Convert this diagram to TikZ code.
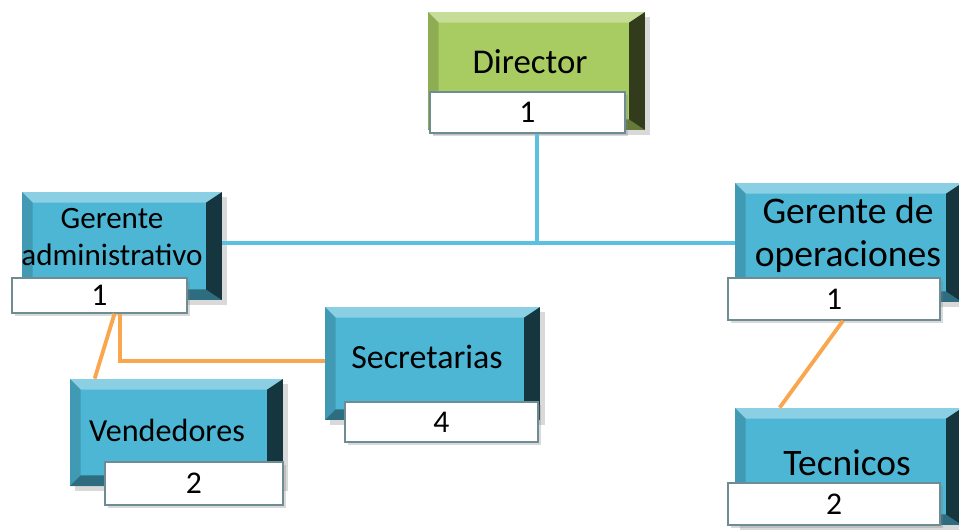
\documentclass[tikz,border=0pt]{standalone}
\usepackage{fontspec}
\setmainfont{Carlito}
\usepackage{xcolor}
\usetikzlibrary{shadows}

\definecolor{cajaazul}{RGB}{76,182,212}
\definecolor{cajaverde}{RGB}{168,204,98}
\definecolor{lineaazul}{RGB}{92,192,224}
\definecolor{lineanaranja}{RGB}{250,166,78}
\definecolor{bordecifra}{RGB}{110,140,148}

\tikzset{
  bisel/.style={path picture={
    \fill[white,opacity=.35] (path picture bounding box.north west) -- (path picture bounding box.north east)
      -- ([shift={(-9pt,-6pt)}]path picture bounding box.north east) -- ([shift={(6pt,-6pt)}]path picture bounding box.north west) -- cycle;
    \fill[black,opacity=.15] (path picture bounding box.north west) -- ([shift={(6pt,-6pt)}]path picture bounding box.north west)
      -- ([shift={(6pt,6pt)}]path picture bounding box.south west) -- (path picture bounding box.south west) -- cycle;
    \fill[black,opacity=.4] (path picture bounding box.south west) -- (path picture bounding box.south east)
      -- ([shift={(-9pt,6pt)}]path picture bounding box.south east) -- ([shift={(6pt,6pt)}]path picture bounding box.south west) -- cycle;
    \fill[black,opacity=.7] (path picture bounding box.north east) -- (path picture bounding box.south east)
      -- ([shift={(-9pt,6pt)}]path picture bounding box.south east) -- ([shift={(-9pt,-6pt)}]path picture bounding box.north east) -- cycle;
  }}
}

\begin{document}
\begin{tikzpicture}[x=0.02cm,y=-0.02cm,
    caja/.style={bisel, inner sep=0pt, drop shadow={shadow xshift=3pt,shadow yshift=-3pt,opacity=.3}},
    azul/.style={caja, fill=cajaazul},
    verde/.style={caja, fill=cajaverde},
    cifra/.style={draw=bordecifra, line width=0.8pt, fill=white, inner sep=0pt, font=\fontsize{18}{20}\selectfont,
      drop shadow={shadow xshift=1.5pt,shadow yshift=-1.5pt,opacity=.3}},
    titulo/.style={align=center, inner sep=0pt},
    uno/.style={lineaazul, line width=1.8pt},
    dos/.style={lineanaranja, line width=2.2pt}]
  \useasboundingbox (0,0) rectangle (959,531);

  % Cajas
  \node[verde, minimum width=4.34cm, minimum height=2.36cm] (dir) at (536.5,71) {};
  \node[azul, minimum width=4cm, minimum height=2.16cm] (gadm) at (122,246) {};
  \node[azul, minimum width=4.54cm, minimum height=2.38cm] (gops) at (848.5,242.5) {};
  \node[azul, minimum width=4.3cm, minimum height=2.26cm] (secr) at (432.5,363.5) {};
  \node[azul, minimum width=4.26cm, minimum height=2.14cm] (vend) at (176.5,432.5) {};
  \node[azul, minimum width=4.54cm, minimum height=2.34cm] (tec) at (848.5,466.5) {};

  % Titulos
  \node[titulo, font=\fontsize{19.8}{22}\selectfont] (dirt) at (530,62) {Director};
  \node[titulo, font=\fontsize{17.7}{21.5}\selectfont] (gadmt) at (112,237) {Gerente\\administrativo};
  \node[titulo, font=\fontsize{21.4}{24}\selectfont] (gopst) at (848,235) {Gerente de\\operaciones};
  \node[titulo, font=\fontsize{19.3}{22}\selectfont] (secrt) at (427,357) {Secretarias};
  \node[titulo, font=\fontsize{18.3}{21}\selectfont] (vendt) at (167,430) {Vendedores};
  \node[titulo, font=\fontsize{21.3}{24}\selectfont] (tect) at (847,463) {Tecnicos};

  % Cantidades
  \node[cifra, minimum width=3.9cm, minimum height=0.82cm] (dirn) at (527.5,112.5) {1};
  \node[cifra, minimum width=3.5cm, minimum height=0.7cm] (gadmn) at (99.5,295.5) {1};
  \node[cifra, minimum width=4.24cm, minimum height=0.84cm] (gopsn) at (834,299) {1};
  \node[cifra, minimum width=3.86cm, minimum height=0.8cm] (secrn) at (441.5,422) {4};
  \node[cifra, minimum width=3.56cm, minimum height=0.86cm] (vendn) at (194,483.5) {2};
  \node[cifra, minimum width=4.24cm, minimum height=0.84cm] (tecn) at (834,504) {2};

  % Lineas azules
  \coordinate (ja) at (537,243);
  \draw[uno] (ja |- dirn.south) -- (ja);
  \draw[uno] (gadm.east |- ja) -- (gops.west |- ja);

  % Lineas naranjas
  \coordinate (jn) at (120,361);
  \draw[dos] (jn |- gadmn.south) -- (jn) -- (secr.west |- jn);
  \draw[dos] ([xshift=0.3cm]gadmn.south) -- ([xshift=0.5cm]vend.north west);
  \draw[dos] ([xshift=0.18cm]gopsn.south) -- ([xshift=0.9cm]tec.north west);
\end{tikzpicture}
\end{document}
